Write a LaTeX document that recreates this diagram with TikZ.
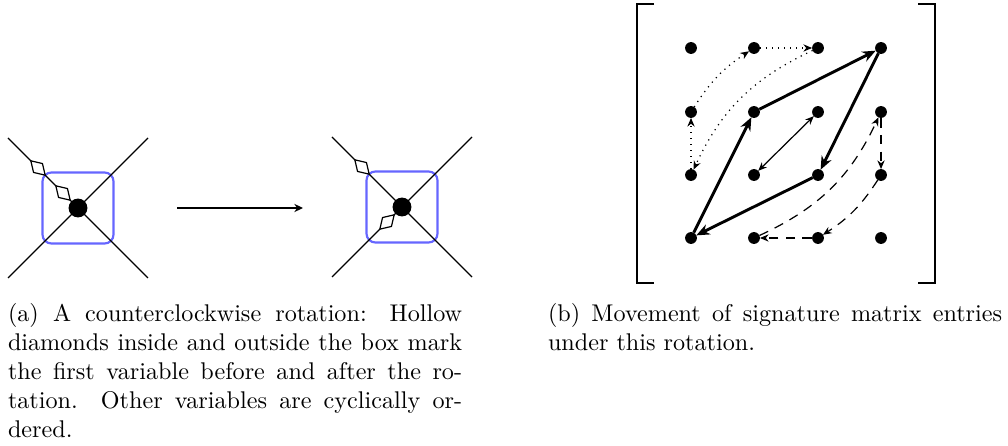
\documentclass[tikz,border=0pt]{standalone}
\usepackage{tikz}
\usetikzlibrary{arrows.meta, shapes.geometric}

\begin{document}
\begin{tikzpicture}[
  x=0.414pt, y=-0.414pt,
  every node/.style={inner sep=0pt, outer sep=0pt},
  arm/.style={line width=0.5pt},
  vtx/.style={circle, fill=black, minimum size=7.8pt},
  vbox/.style={draw=blue!60, line width=0.9pt, rounded corners=3.7pt, minimum size=29.4pt},
  dmd/.style={diamond, draw, fill=white, line width=0.5pt, minimum width=8.4pt, minimum height=5.2pt},
  entry/.style={circle, fill=black, minimum size=4.9pt},
  brk/.style={line width=0.6pt},
  big/.style={line width=1.2pt, -{Stealth[length=5.5pt, width=4.5pt]}},
  small/.style={line width=0.5pt, -{Stealth[length=3.6pt, width=3pt]}},
  dashd/.style={small, dash pattern=on 4pt off 3pt},
  capt/.style={text width=188pt, align=justify, anchor=north west}
]
\useasboundingbox (0,0) rectangle (1008,446);

% (a) vertex before the rotation
\node[vbox] (bl) at (78,208) {};
\coordinate (vl-nw) at (8,138);
\coordinate (vl-se) at (148,278);
\coordinate (vl-ne) at (148,138);
\coordinate (vl-sw) at (8,278);
\draw[arm] (vl-nw) -- (vl-se);
\draw[arm] (vl-ne) -- (vl-sw);
\node[vtx] (vl) at (78,208) {};
\node[dmd, rotate=-45] (dl-out) at (38,168) {};
\node[dmd, rotate=-45] (dl-in) at (63,193) {};

% rotation arrow
\coordinate (mv-s) at (177,208);
\coordinate (mv-e) at (303,208);
\draw[line width=0.5pt, -{Stealth[length=3.6pt, width=3.4pt]}] (mv-s) -- (mv-e);

% (a) vertex after the rotation
\node[vbox] (br) at (402,207) {};
\coordinate (vr-nw) at (332,137);
\coordinate (vr-se) at (472,277);
\coordinate (vr-ne) at (472,137);
\coordinate (vr-sw) at (332,277);
\draw[arm] (vr-nw) -- (vr-se);
\draw[arm] (vr-ne) -- (vr-sw);
\node[vtx] (vr) at (402,207) {};
\node[dmd, rotate=-45] (dr-out) at (362,167) {};
\node[dmd, rotate=45] (dr-in) at (387,222) {};

% (b) signature matrix
\draw[brk] (654,4) -- (637,4) -- (637,283) -- (654,283);
\draw[brk] (918,4) -- (935,4) -- (935,283) -- (918,283);
\foreach \r/\yy in {1/48,2/112,3/175,4/238}
  \foreach \c/\xx in {1/691,2/754,3/818,4/881}
    \node[entry] (p-\r-\c) at (\xx,\yy) {};

\draw[big] (p-2-2) -- (p-1-4);
\draw[big] (p-1-4) -- (p-3-3);
\draw[big] (p-3-3) -- (p-4-1);
\draw[big] (p-4-1) -- (p-2-2);
\draw[small, {Stealth[length=3.6pt, width=3pt]}-{Stealth[length=3.6pt, width=3pt]}] (p-3-2) -- (p-2-3);

\draw[small, dotted] (p-2-1) to[bend left=12] (p-1-2);
\draw[small, dotted] (p-1-2) -- (p-1-3);
\draw[small, dotted] (p-1-3) to[bend right=20] (p-3-1);
\draw[small, dotted] (p-3-1) -- (p-2-1);

\draw[dashd] (p-2-4) -- (p-3-4);
\draw[dashd] (p-3-4) to[bend left=12] (p-4-3);
\draw[dashd] (p-4-3) -- (p-4-2);
\draw[dashd] (p-4-2) to[bend right=20] (p-2-4);

% captions
\node[capt] (cap-a) at (8,303) {(a) A counterclockwise rotation: Hollow\linebreak
  diamonds inside and outside the box mark\linebreak
  the first variable before and after the ro-\linebreak
  tation. Other variables are cyclically or-\linebreak
  dered.};
\node[capt] (cap-b) at (548,303) {(b) Movement of signature matrix entries under this rotation.};
\end{tikzpicture}
\end{document}
